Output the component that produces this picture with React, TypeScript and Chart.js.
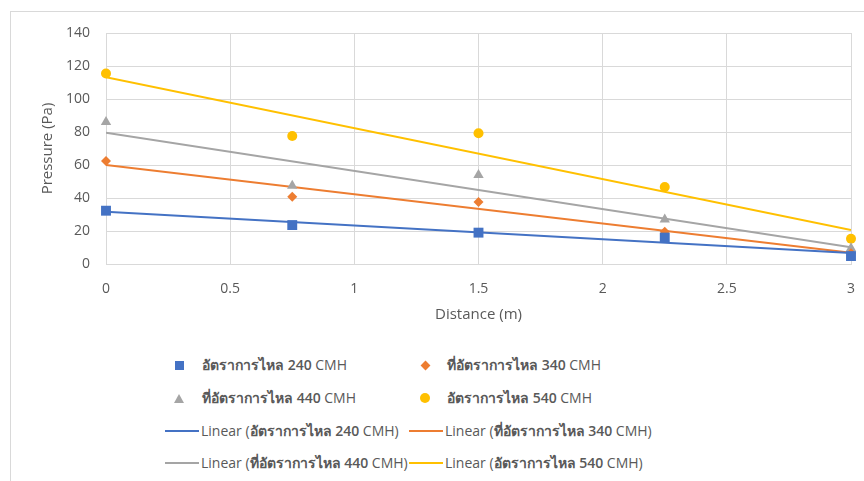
import React, { useEffect, useRef } from "react";
import { Chart, registerables } from "chart.js";

Chart.register(...registerables);

// Measurement positions along the duct (m)
const distances = [0, 0.75, 1.5, 2.25, 3];

// Static pressure (Pa) for each flow rate
const flow240 = [32.3, 23.6, 19.0, 16.0, 4.8];
const flow340 = [62.4, 40.8, 37.6, 19.6, 6.5];
const flow440 = [86.0, 47.5, 54.0, 27.0, 9.5];
const flow540 = [115.5, 77.6, 79.2, 46.7, 15.3];

const seriesNames = [
  "อัตราการไหล 240",
  "ที่อัตราการไหล 340",
  "ที่อัตราการไหล 440",
  "อัตราการไหล 540",
];
const UNIT = "CMH";
const seriesColors = ["#4472C4", "#ED7D31", "#A5A5A5", "#FFC000"];
const seriesStyles = ["rect", "rectRot", "triangle", "circle"];
const seriesRadius = [7, 5, 6, 5];

const yTicks = { min: 0, max: 140, step: 20 };
const xTicks = { min: 0, max: 3, step: 0.5 };

const FONT = "'Open Sans', 'Noto Sans', sans-serif";
const TEXT = "#595959";
const GRID = "#d9d9d9";

// Least-squares straight line through a series, evaluated at the axis ends
function linearFit(xs: number[], ys: number[]) {
  const n = xs.length;
  const mx = xs.reduce((a, b) => a + b, 0) / n;
  const my = ys.reduce((a, b) => a + b, 0) / n;
  let sxy = 0;
  let sxx = 0;
  for (let i = 0; i < n; i++) {
    sxy += (xs[i] - mx) * (ys[i] - my);
    sxx += (xs[i] - mx) * (xs[i] - mx);
  }
  const slope = sxy / sxx;
  const icpt = my - slope * mx;
  return [xTicks.min, xTicks.max].map((x) => ({ x, y: icpt + slope * x }));
}

function LegendMarker({ i }: { i: number }) {
  const c = seriesColors[i];
  if (i === 0) return <div style={{ width: 9, height: 9, background: c }} />;
  if (i === 1)
    return <div style={{ width: 7, height: 7, background: c, transform: "rotate(45deg)" }} />;
  if (i === 2)
    return (
      <div
        style={{
          width: 0,
          height: 0,
          borderLeft: "5px solid transparent",
          borderRight: "5px solid transparent",
          borderBottom: `9px solid ${c}`,
        }}
      />
    );
  return <div style={{ width: 10, height: 10, borderRadius: "50%", background: c }} />;
}

function SeriesName({ i }: { i: number }) {
  return (
    <>
      <span style={{ fontWeight: 600 }}>{seriesNames[i]}</span> {UNIT}
    </>
  );
}

export default function App() {
  const ref = useRef<HTMLCanvasElement | null>(null);

  useEffect(() => {
    if (!ref.current) return;
    const series = [flow240, flow340, flow440, flow540];
    const pointSets = series.map((ys, i) => ({
      type: "scatter" as const,
      label: `${seriesNames[i]} ${UNIT}`,
      data: distances.map((x, k) => ({ x, y: ys[k] })),
      pointStyle: seriesStyles[i],
      pointRadius: seriesRadius[i],
      backgroundColor: seriesColors[i],
      borderColor: seriesColors[i],
      borderWidth: 0,
      showLine: false,
      clip: false,
      order: 1,
    }));
    const fitSets = series.map((ys, i) => ({
      type: "scatter" as const,
      label: `Linear (${seriesNames[i]} ${UNIT})`,
      data: linearFit(distances, ys),
      showLine: true,
      pointRadius: 0,
      borderColor: seriesColors[i],
      borderWidth: 2,
      order: 2,
    }));

    const chart = new Chart(ref.current, {
      type: "scatter",
      data: { datasets: [...fitSets, ...pointSets] as any },
      options: {
        animation: false,
        responsive: false,
        devicePixelRatio: 1,
        layout: { padding: { left: 0, right: 13, top: 33, bottom: 0 } },
        plugins: { legend: { display: false }, tooltip: { enabled: false } },
        scales: {
          x: {
            type: "linear",
            min: xTicks.min,
            max: xTicks.max,
            ticks: {
              stepSize: xTicks.step,
              color: TEXT,
              font: { family: FONT, size: 14 },
              padding: 17,
              callback: (v: any) => String(v),
            },
            grid: { color: GRID, drawTicks: false },
            border: { color: GRID },
            title: {
              display: true,
              text: "Distance (m)",
              color: TEXT,
              font: { family: FONT, size: 15 },
              padding: { top: 0, bottom: 6 },
            },
            afterFit: (s: any) => {
              s.height = 66;
              s.paddingLeft = 0;
              s.paddingRight = 0;
            },
          },
          y: {
            type: "linear",
            min: yTicks.min,
            max: yTicks.max,
            ticks: {
              stepSize: yTicks.step,
              color: TEXT,
              font: { family: FONT, size: 14 },
              padding: 16,
              callback: (v: any) => String(v),
            },
            grid: { color: GRID, drawTicks: false },
            border: { color: GRID },
            title: {
              display: true,
              text: "Pressure (Pa)",
              color: TEXT,
              font: { family: FONT, size: 15 },
              padding: { top: 39, bottom: 0 },
            },
            afterFit: (s: any) => {
              s.width = 106;
            },
          },
        },
      },
    });
    return () => chart.destroy();
  }, []);

  const legendRows = [
    [0, 1],
    [2, 3],
  ];

  const rowStyle = {
    position: "absolute" as const,
    height: 18,
    display: "flex",
    alignItems: "center",
    fontFamily: FONT,
    fontSize: 14,
    color: TEXT,
    whiteSpace: "nowrap" as const,
  };

  return (
    <div style={{ position: "fixed", left: 0, top: 0, width: 864, height: 481, background: "#fff", overflow: "hidden" }}>
      <div
        style={{
          position: "absolute",
          left: 10,
          top: 11,
          width: 900,
          height: 520,
          borderLeft: `1px solid ${GRID}`,
          borderTop: `1px solid ${GRID}`,
        }}
      />
      <canvas ref={ref} width={864} height={330} style={{ position: "absolute", left: 0, top: 0 }} />
      {legendRows.map((row, r) =>
        row.map((i, c) => (
          <div key={`m${i}`} style={{ ...rowStyle, left: c === 0 ? 172 : 418, top: 356 + r * 33 }}>
            <div style={{ width: 14, display: "flex", justifyContent: "center" }}>
              <LegendMarker i={i} />
            </div>
            <span style={{ marginLeft: c === 0 ? 16 : 15 }}>
              <SeriesName i={i} />
            </span>
          </div>
        ))
      )}
      {legendRows.map((row, r) =>
        row.map((i, c) => (
          <div key={`l${i}`} style={{ ...rowStyle, left: c === 0 ? 165 : 409, top: 422 + r * 32 }}>
            <div style={{ width: 34, height: 2, background: seriesColors[i] }} />
            <span style={{ marginLeft: 2 }}>
              Linear (<SeriesName i={i} />)
            </span>
          </div>
        ))
      )}
    </div>
  );
}
